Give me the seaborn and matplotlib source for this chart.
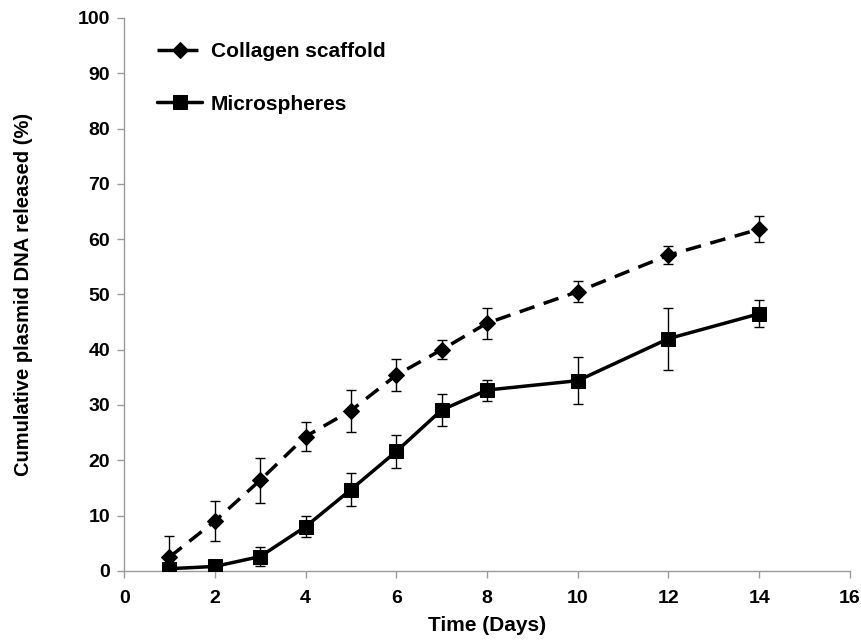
import numpy as np
import pandas as pd
import seaborn as sns
import matplotlib.pyplot as plt

days_collagen = [1, 2, 3, 4, 5, 6, 7, 8, 10, 12, 14]
collagen = [2.5, 9.0, 16.4, 24.3, 29.0, 35.4, 40.0, 44.8, 50.5, 57.1, 61.8]
collagen_err = [3.8, 3.6, 4.1, 2.7, 3.8, 2.9, 1.7, 2.8, 1.9, 1.6, 2.4]

days_micro = [1, 2, 3, 4, 5, 6, 7, 8, 10, 12, 14]
micro = [0.4, 0.8, 2.6, 8.0, 14.7, 21.6, 29.1, 32.7, 34.4, 42.0, 46.5]
micro_err = [0.0, 0.0, 1.7, 1.9, 3.0, 3.0, 2.9, 1.9, 4.3, 5.6, 2.4]

x_ticks = [0, 2, 4, 6, 8, 10, 12, 14, 16]
y_ticks = [0, 10, 20, 30, 40, 50, 60, 70, 80, 90, 100]

sns.set_style("white")
plt.rcParams['font.family'] = ['Liberation Sans', 'DejaVu Sans']
plt.rcParams['text.color'] = 'black'
plt.rcParams['axes.labelcolor'] = 'black'

fig = plt.figure(figsize=(8.62, 6.4), dpi=100)
ax = fig.add_axes([0.144, 0.108, 0.842, 0.864])

df_c = pd.DataFrame({"day": days_collagen, "val": collagen})
df_m = pd.DataFrame({"day": days_micro, "val": micro})

# error bars first, seaborn lines on top
ax.errorbar(days_collagen, collagen, yerr=collagen_err, fmt="none", ecolor="black",
            elinewidth=1, capsize=3.5, capthick=1, zorder=2)
ax.errorbar(days_micro, micro, yerr=micro_err, fmt="none", ecolor="black",
            elinewidth=1, capsize=3.5, capthick=1, zorder=2)

sns.lineplot(data=df_c, x="day", y="val", ax=ax, color="black", linewidth=2.5,
             marker="D", markersize=8.5, markeredgecolor="black",
             label="Collagen scaffold", zorder=3)
sns.lineplot(data=df_m, x="day", y="val", ax=ax, color="black", linewidth=2.5,
             marker="s", markersize=10, markeredgecolor="black",
             label="Microspheres", zorder=3)
for ln in ax.get_lines():
    if ln.get_label() == "Collagen scaffold":
        ln.set_dashes([4.5, 2.8])

ax.set_xlim(0, 16)
ax.set_ylim(0, 100)
ax.set_xticks(x_ticks)
ax.set_yticks(y_ticks)
ax.set_xlabel("Time (Days)", fontsize=15, fontweight="bold", labelpad=6)
ax.set_ylabel("Cumulative plasmid DNA released (%)", fontsize=14.5, fontweight="bold", labelpad=32)
for lab in ax.get_xticklabels() + ax.get_yticklabels():
    lab.set_fontweight("bold")
    lab.set_fontsize(14)

for s in ["top", "right"]:
    ax.spines[s].set_visible(False)
for s in ["left", "bottom"]:
    ax.spines[s].set_color("#9a9a9a")
    ax.spines[s].set_linewidth(1)
ax.tick_params(axis="y", direction="out", length=5, width=1, color="#9a9a9a",
               labelcolor="black", pad=5, left=True)
ax.tick_params(axis="x", direction="out", length=5, width=1, color="#9a9a9a",
               labelcolor="black", pad=9, bottom=True)

handles, labels = ax.get_legend_handles_labels()
leg = ax.legend(handles, labels, loc="upper left", bbox_to_anchor=(0.02, 0.99),
                frameon=False, labelspacing=1.6, handlelength=2.15, handletextpad=0.4,
                prop={"weight": "bold", "size": 15})

fig.savefig("out.png", dpi=100)
